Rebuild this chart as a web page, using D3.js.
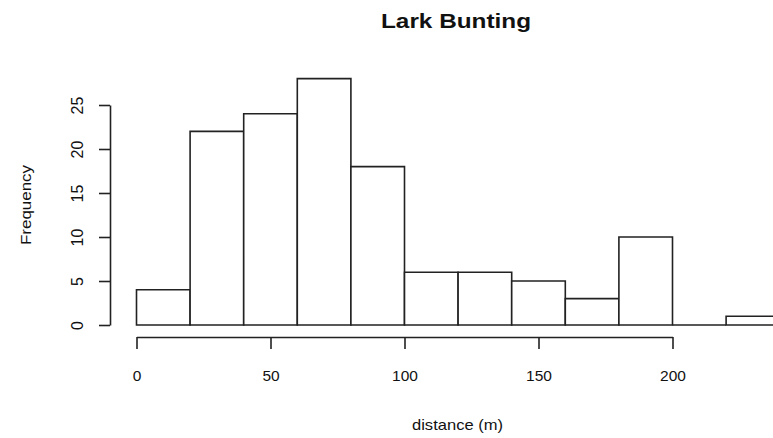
<!DOCTYPE html>
<html>
<head>
<meta charset="utf-8">
<script src="https://cdn.jsdelivr.net/npm/d3@7"></script>
<style>
  body { margin: 0; background: #fff; }
  text { font-family: "Liberation Sans", Arial, sans-serif; fill: #111; }
</style>
</head>
<body>
<div id="chart"></div>
<script>
// histogram of distances, 20 m bins
const breaks = [0, 20, 40, 60, 80, 100, 120, 140, 160, 180, 200, 220, 240]
const counts = [4, 22, 24, 28, 18, 6, 6, 5, 3, 10, 0, 1]
const xTicks = [0, 50, 100, 150, 200]
const yTicks = [0, 5, 10, 15, 20, 25]
const title = "Lark Bunting"
const xLabel = "distance (m)"
const yLabel = "Frequency"

document.addEventListener("DOMContentLoaded", draw)

function draw(){
    const width = 773
    const height = 438
    const svg = d3.select("#chart").append("svg")
        .attr("width", width)
        .attr("height", height)

    const x = d3.scaleLinear().domain([0, 200]).range([136.5, 672.5])
    const y = d3.scaleLinear().domain([0, 25]).range([325, 105])

    const bins = counts.map((c, i) => ({x0: breaks[i], x1: breaks[i + 1], n: c}))

    // paths instead of rects so the empty bin still shows as a line
    svg.append("g")
        .selectAll("path")
        .data(bins)
        .enter()
        .append("path")
        .attr("d", d => {
            const p = d3.path()
            p.rect(x(d.x0), y(d.n), x(d.x1) - x(d.x0), y(0) - y(d.n))
            return p.toString()
        })
        .attr("fill", "#fff")
        .attr("stroke", "#222")
        .attr("stroke-width", 1.6)

    // x axis, R style: line only over the ticks
    const xAxis = svg.append("g")
        .attr("transform", "translate(0,337)")
        .call(d3.axisBottom(x).tickValues(xTicks).tickSize(12).tickSizeOuter(0).tickPadding(21))
    xAxis.selectAll("text").style("font-size", "15.5px").attr("font-family", null)

    const yAxis = svg.append("g")
        .attr("transform", "translate(110,0)")
        .call(d3.axisLeft(y).tickValues(yTicks).tickSize(11).tickSizeOuter(0))
    yAxis.selectAll("text")
        .attr("transform", "rotate(-90)")
        .attr("x", 0)
        .attr("y", -33)
        .attr("dy", "0.35em")
        .attr("text-anchor", "middle")
        .attr("font-family", null)
        .style("font-size", "16px")
    svg.selectAll(".tick text").attr("fill", "#111")
    svg.selectAll(".domain, .tick line").attr("stroke", "#222").attr("stroke-width", 1.6)

    svg.append("text")
        .attr("x", 456)
        .attr("y", 28)
        .attr("text-anchor", "middle")
        .attr("textLength", 150)
        .attr("lengthAdjust", "spacingAndGlyphs")
        .style("font-size", "21px")
        .style("font-weight", "bold")
        .text(title)

    svg.append("text")
        .attr("x", 457.5)
        .attr("y", 430)
        .attr("text-anchor", "middle")
        .attr("textLength", 91)
        .attr("lengthAdjust", "spacingAndGlyphs")
        .style("font-size", "15px")
        .text(xLabel)

    svg.append("text")
        .attr("transform", "translate(30.5,205) rotate(-90)")
        .attr("text-anchor", "middle")
        .attr("textLength", 80)
        .attr("lengthAdjust", "spacingAndGlyphs")
        .style("font-size", "15px")
        .text(yLabel)
}
</script>
</body>
</html>
